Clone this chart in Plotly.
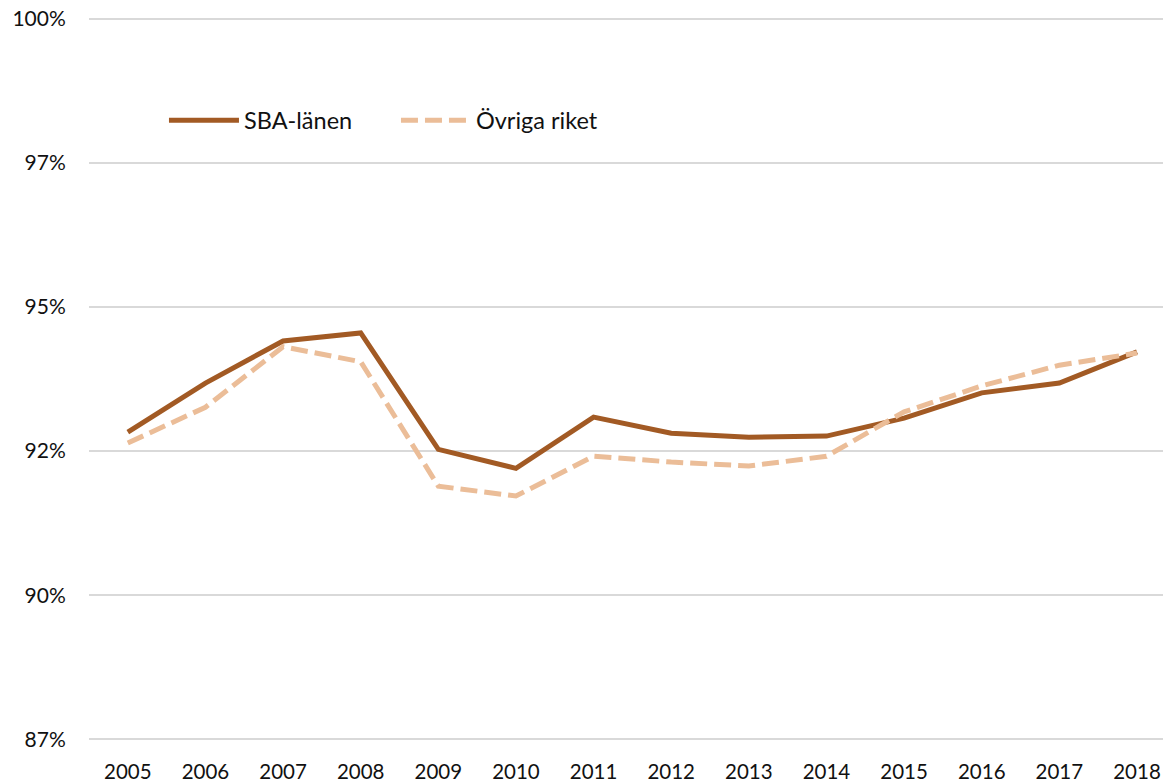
import plotly.graph_objects as go

years = [2005, 2006, 2007, 2008, 2009, 2010, 2011, 2012, 2013, 2014, 2015, 2016, 2017, 2018]
sba_lanen = [92.83, 93.68, 94.41, 94.55, 92.53, 92.20, 93.09, 92.81, 92.74, 92.76, 93.07, 93.51, 93.68, 94.22]
ovriga_riket = [92.64, 93.26, 94.31, 94.05, 91.89, 91.72, 92.41, 92.31, 92.24, 92.41, 93.18, 93.63, 93.99, 94.20]

y_tickvals = [87.5, 90, 92.5, 95, 97.5, 100]
y_ticktext = ["87%", "90%", "92%", "95%", "97%", "100%"]

FONT = "Lato"
TXT = "#111111"

fig = go.Figure()
fig.add_trace(go.Scatter(
    x=years, y=sba_lanen, mode="lines", name="SBA-länen",
    line=dict(color="#A25A24", width=5),
))
fig.add_trace(go.Scatter(
    x=years, y=ovriga_riket, mode="lines", name="Övriga riket",
    line=dict(color="#EBBD98", width=5, dash="17px,7px"),
))

fig.update_layout(
    width=1163, height=782,
    margin=dict(l=89, r=0, t=17, b=41),
    paper_bgcolor="white", plot_bgcolor="white",
    font=dict(family=FONT, size=21, color=TXT),
    showlegend=True,
    legend=dict(
        orientation="h", x=0.0698, y=0.857, xanchor="left", yanchor="middle",
        bgcolor="rgba(0,0,0,0)", font=dict(family=FONT, size=23.5, color=TXT),
        itemwidth=70, entrywidth=147,
    ),
    xaxis=dict(
        range=[2004.5, 2018.335], tickmode="array", tickvals=years,
        ticktext=[str(y) for y in years],
        showgrid=False, zeroline=False, showline=False,
        ticks="outside", ticklen=12, tickcolor="rgba(0,0,0,0)",
        tickfont=dict(family=FONT, size=20.5, color=TXT),
        ticklabeloverflow="allow",
    ),
    yaxis=dict(
        range=[87.47, 100.03], tickmode="array", tickvals=y_tickvals, ticktext=y_ticktext,
        showgrid=True, gridcolor="#D9D9D9", gridwidth=2, zeroline=False, showline=False,
        ticks="outside", ticklen=18, tickcolor="rgba(0,0,0,0)",
        tickfont=dict(family=FONT, size=21, color=TXT),
        ticklabeloverflow="allow",
    ),
)

# remove the default 8px page margin so the figure fills the window exactly
fig.write_html("out.html", config={"displayModeBar": False},
               post_script="document.body.style.margin='0';")
